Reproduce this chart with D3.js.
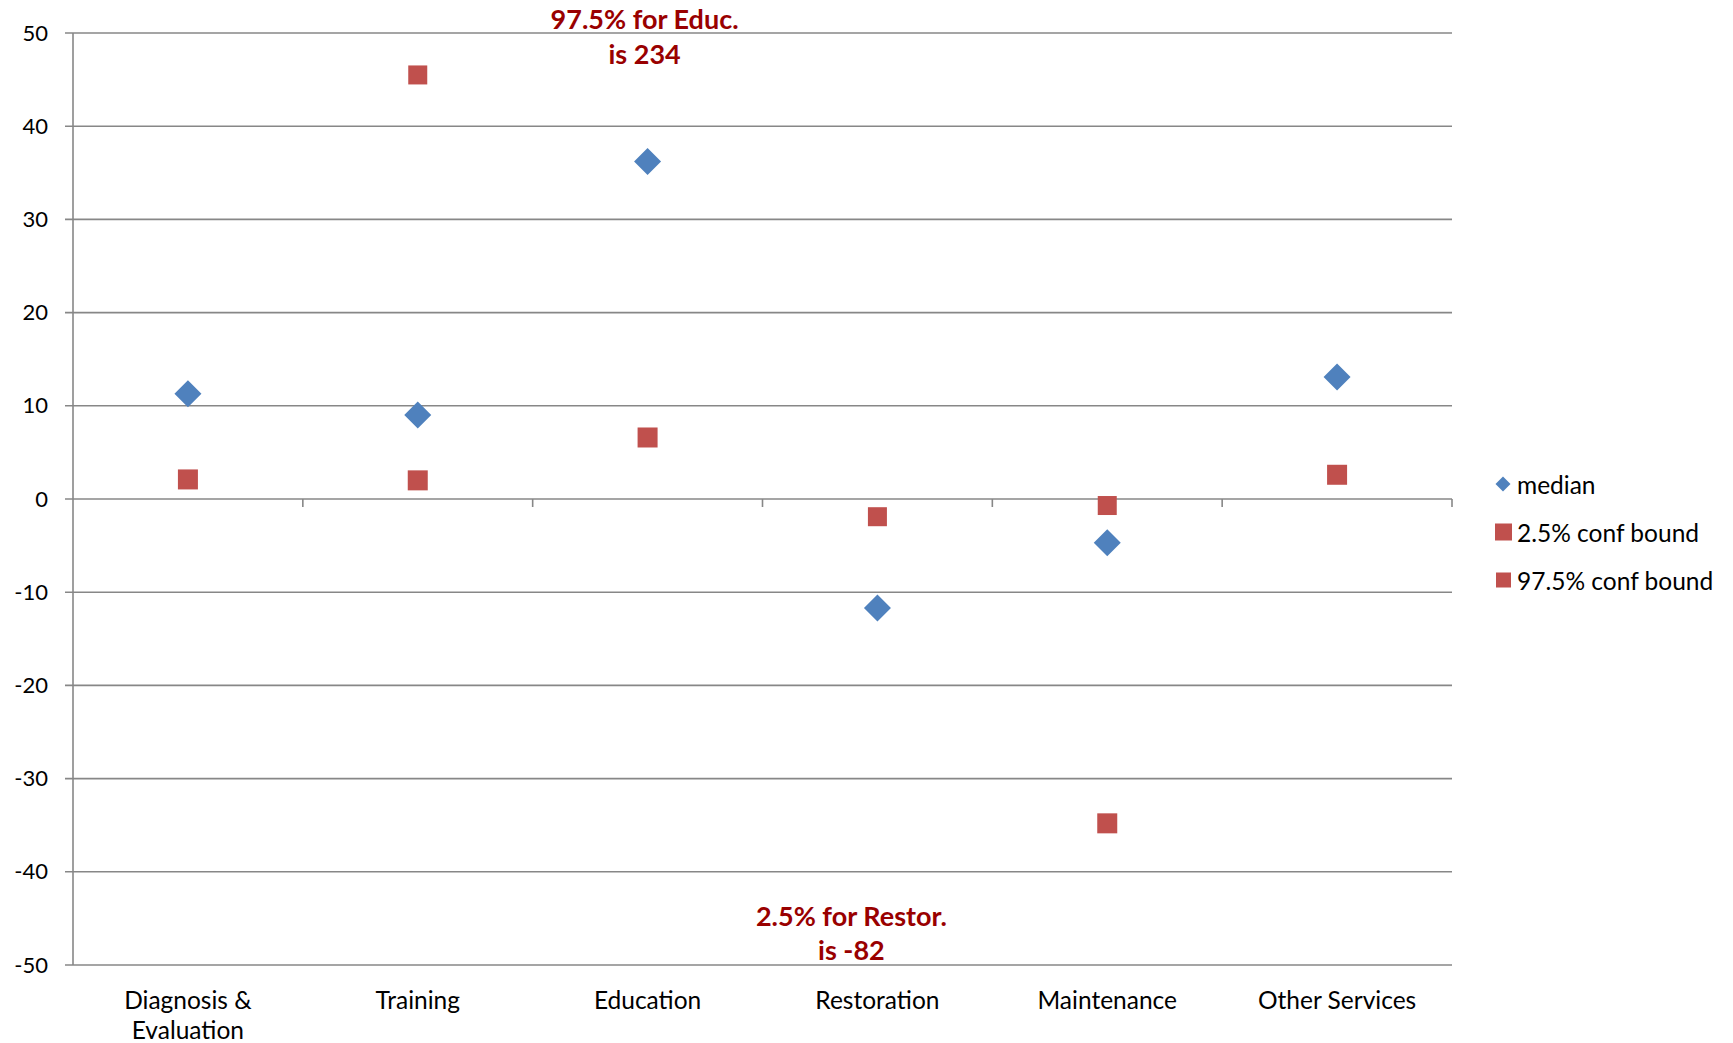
<!DOCTYPE html>
<html><head><meta charset="utf-8">
<script src="https://cdn.jsdelivr.net/npm/d3@7"></script>
<style>body{margin:0;background:#fff}svg{display:block}text{font-family:Lato,"Noto Sans",sans-serif}</style>
</head><body><svg id="c" width="1733" height="1043"></svg>
<script>
const categories = [["Diagnosis &","Evaluation"],["Training"],["Education"],["Restoration"],["Maintenance"],["Other Services"]];
const median = [11.3, 9.0, 36.2, -11.7, -4.7, 13.1];
const lowBound = [2.1, 2.0, 6.6, null, -34.8, 2.6];
const highBound = [null, 45.5, null, -1.9, -0.7, null];
const yTicks = [50,40,30,20,10,0,-10,-20,-30,-40,-50];
const seriesNames = ["median","2.5% conf bound","97.5% conf bound"];
const notes = [{lines:["97.5% for Educ.","is 234"], cat:2, dx:-3, y:[18,53]},{lines:["2.5% for Restor.","is -82"], cat:3, dx:-26, y:[915,949]}];

const svg = d3.select("#c");
const L = 73, R = 1452, T = 33, B = 965;
const x = d3.scaleBand().domain(d3.range(categories.length)).range([L,R]);
const y = d3.scaleLinear().domain([-50,50]).range([B,T]);
const grid = "#878787";

// gridlines
svg.append("g").selectAll("line").data(yTicks).join("line")
  .attr("x1",L-8).attr("x2",R).attr("y1",d=>y(d)).attr("y2",d=>y(d))
  .attr("stroke",grid).attr("stroke-width",1.6);
// y axis
svg.append("line").attr("x1",L).attr("x2",L).attr("y1",T).attr("y2",B).attr("stroke",grid).attr("stroke-width",1.6);
svg.append("g").selectAll("text").data(yTicks).join("text")
  .attr("x",48).attr("y",d=>y(d)-1).attr("text-anchor","end").attr("dominant-baseline","central")
  .attr("font-size",22).attr("fill","#000").text(d=>d);
// x-axis ticks at 0
svg.append("g").selectAll("line").data(d3.range(1,categories.length+1)).join("line")
  .attr("x1",i=>L+i*x.step()).attr("x2",i=>L+i*x.step()).attr("y1",y(0)).attr("y2",y(0)+8)
  .attr("stroke",grid).attr("stroke-width",1.6);
// category labels
const cl = svg.append("g").selectAll("text").data(categories).join("text")
  .attr("x",(d,i)=>x(i)+x.bandwidth()/2).attr("text-anchor","middle").attr("font-size",24.5).attr("fill","#000");
cl.selectAll("tspan").data(d=>d).join("tspan")
  .attr("x",function(){return this.parentNode.getAttribute("x");})
  .attr("y",(d,j)=>999+j*30).attr("dominant-baseline","central").text(d=>d);

const cx = i => x(i)+x.bandwidth()/2;
// markers
function squares(data, size){
  svg.append("g").selectAll("rect").data(data.map((v,i)=>({v,i})).filter(d=>d.v!==null)).join("rect")
    .attr("x",d=>cx(d.i)-size/2).attr("y",d=>y(d.v)-size/2).attr("width",size).attr("height",size)
    .attr("fill","#C0504D");
}
squares(lowBound, 20);
squares(highBound, 19);
svg.append("g").selectAll("path").data(median.map((v,i)=>({v,i}))).join("path")
  .attr("d",d=>{const cx0=cx(d.i), cy=y(d.v), r=13.5; return `M${cx0},${cy-r}L${cx0+r},${cy}L${cx0},${cy+r}L${cx0-r},${cy}Z`;})
  .attr("fill","#4F81BD");

// annotations
notes.forEach(n=>{
  n.lines.forEach((t,j)=>{
    svg.append("text").attr("x",cx(n.cat)+n.dx).attr("y",n.y[j]).attr("text-anchor","middle")
      .attr("dominant-baseline","central").attr("font-size",27).attr("font-weight","bold")
      .attr("fill","#990000").text(t);
  });
});

// legend
const lg = svg.append("g");
const ly = [484,532,580];
lg.append("path").attr("d",`M1503,${ly[0]-7.5}L1510.5,${ly[0]}L1503,${ly[0]+7.5}L1495.5,${ly[0]}Z`).attr("fill","#4F81BD");
lg.append("rect").attr("x",1495).attr("y",ly[1]-8.5).attr("width",17).attr("height",17).attr("fill","#C0504D");
lg.append("rect").attr("x",1496).attr("y",ly[2]-7.5).attr("width",15).attr("height",15).attr("fill","#C0504D");
lg.selectAll("text").data(seriesNames).join("text")
  .attr("x",1517).attr("y",(d,i)=>ly[i]).attr("dominant-baseline","central").attr("font-size",24.5).attr("fill","#000").text(d=>d);
</script></body></html>
